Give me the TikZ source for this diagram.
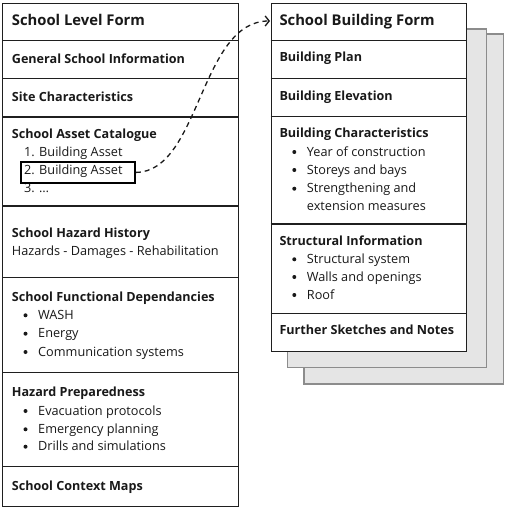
\documentclass[tikz,border=0pt]{standalone}
\usepackage{fontspec}
\setmainfont{Open Sans}
\usetikzlibrary{arrows.meta}
\begin{document}
\begin{tikzpicture}[x=1pt,y=-1pt,
  titletxt/.style={anchor=base west, inner sep=0pt, text=black!90, font=\fontsize{14.8}{18}\selectfont\bfseries},
  headtxt/.style={anchor=base west, inner sep=0pt, text=black!90, font=\fontsize{12.6}{14}\selectfont\bfseries},
  itemtxt/.style={anchor=base west, inner sep=0pt, text=black!90, font=\fontsize{12.7}{15}\selectfont},
  bul/.style={circle, fill=black!90, inner sep=0pt, minimum size=4pt},
  boxframe/.style={draw=black!88, line width=1.3pt, fill=white, inner sep=0pt, anchor=north west},
  divider/.style={draw=black!88, line width=1.3pt},
  backpage/.style={draw=black!45, line width=1.5pt, fill=black!10, inner sep=0pt, anchor=north west},
  hlbox/.style={draw=black, line width=1.8pt, inner sep=0pt, anchor=north west},
  link/.style={draw=black!90, line width=1.3pt, dash pattern=on 5pt off 4pt, -{Straight Barb[length=4pt,width=10pt]}}]
\useasboundingbox (0,0) rectangle (505,508);

% ---------- left form ----------
\node[boxframe, minimum width=236, minimum height=503] (left) at (2,3) {};
\foreach \yy/\nm in {40.7/la,78.7/lb,117/lc,206/ld,277.3/le,372.3/lf,466.7/lg}
  \draw[divider] (left.west |- 0,\yy) coordinate (\nm w) -- (left.east |- 0,\yy) coordinate (\nm e);

\node[titletxt] (t1) at (11.7,26) {School Level Form};
\node[headtxt] (h1) at (11.7,64) {General School Information};
\node[headtxt] (h2) at (11.7,101.7) {Site Characteristics};
\node[headtxt] (h3) at (11.7,138) {School Asset Catalogue};
\node[itemtxt] (i1) at (24,156.7) {1. Building Asset};
\node[itemtxt] (i2) at (24,174.7) {2. Building Asset};
\node[itemtxt] (i3) at (24,192.7) {3. …};
\node[hlbox, minimum width=114, minimum height=21] (hl) at (20,161) {};
\node[headtxt] (h4) at (11.7,237.3) {School Hazard History};
\node[itemtxt] (i4) at (11.7,255) {Hazards - Damages - Rehabilitation};
\node[headtxt] (h5) at (11.7,301.7) {School Functional Dependancies};
\foreach \yy/\txt/\nm in {319.3/WASH/f1,337.7/Energy/f2,356/Communication systems/f3}{
  \node[bul] (\nm b) at (25.5,\yy-4) {};
  \node[itemtxt] (\nm) at (38,\yy) {\txt};
}
\node[headtxt] (h6) at (11.7,396) {Hazard Preparedness};
\foreach \yy/\txt/\nm in {415/Evacuation protocols/p1,433.3/Emergency planning/p2,450.7/Drills and simulations/p3}{
  \node[bul] (\nm b) at (25.5,\yy-4) {};
  \node[itemtxt] (\nm) at (38,\yy) {\txt};
}
\node[headtxt] (h7) at (11.7,490) {School Context Maps};

% ---------- right form stack ----------
\node[backpage, minimum width=199.4, minimum height=350] (pg3) at (303.3,33.3) {};
\node[backpage, minimum width=199, minimum height=338.4] (pg2) at (286.7,28.3) {};
\node[boxframe, minimum width=195.3, minimum height=348.3] (right) at (270.7,2.7) {};
\foreach \yy/\nm in {40.7/ra,78.7/rb,116.7/rc,224/rd,313.3/re}
  \draw[divider] (right.west |- 0,\yy) coordinate (\nm w) -- (right.east |- 0,\yy) coordinate (\nm e);

\node[titletxt] (t2) at (279.3,26) {School Building Form};
\node[headtxt] (g1) at (279.3,61.7) {Building Plan};
\node[headtxt] (g2) at (279.3,100) {Building Elevation};
\node[headtxt] (g3) at (279.3,137.7) {Building Characteristics};
\foreach \yy/\txt/\nm in {156/Year of construction/c1,174/Storeys and bays/c2,192.7/Strengthening and/c3}{
  \node[bul] (\nm b) at (294.3,\yy-4) {};
  \node[itemtxt] (\nm) at (306.7,\yy) {\txt};
}
\node[itemtxt] (c4) at (306.7,210) {extension measures};
\node[headtxt] (g4) at (279.3,245) {Structural Information};
\foreach \yy/\txt/\nm in {263.3/Structural system/s1,281/Walls and openings/s2,299/Roof/s3}{
  \node[bul] (\nm b) at (294.3,\yy-4) {};
  \node[itemtxt] (\nm) at (306.7,\yy) {\txt};
}
\node[headtxt] (g5) at (279.3,334) {Further Sketches and Notes};

% ---------- link ----------
\coordinate (tip) at (270,21);
\draw[link] (hl.east) .. controls (200,172) and (200,21) .. (tip);
\end{tikzpicture}
\end{document}
